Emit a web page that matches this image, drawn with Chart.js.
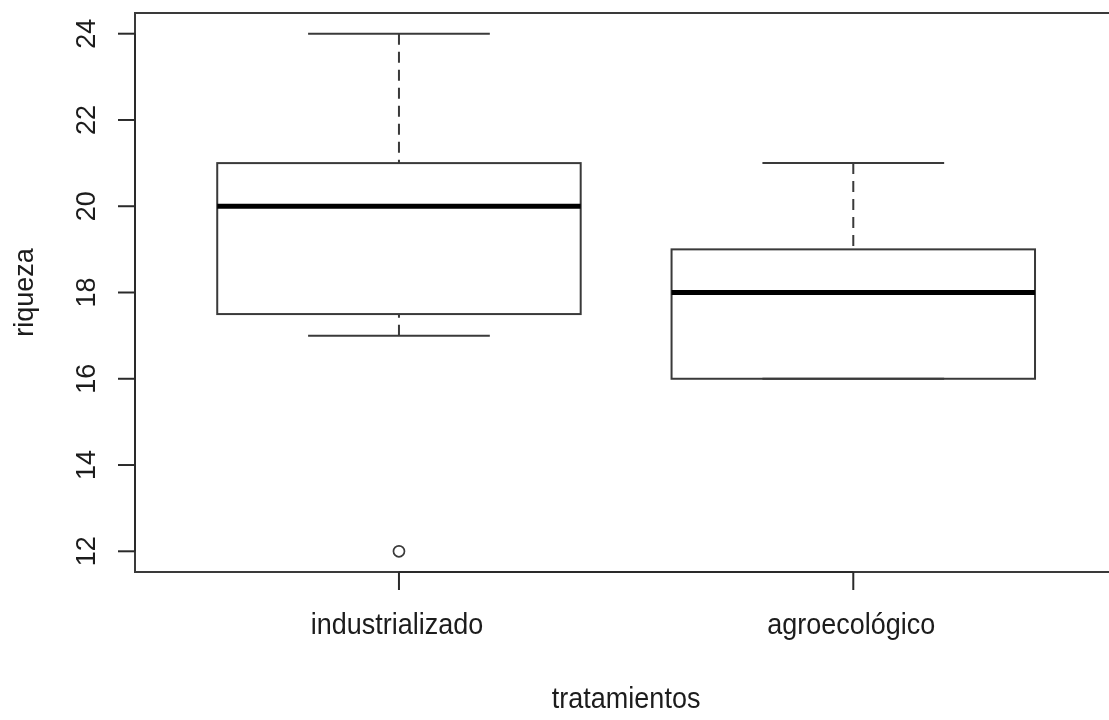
<!DOCTYPE html>
<html>
<head>
<meta charset="utf-8">
<script src="https://cdn.jsdelivr.net/npm/chart.js@4.4.1/dist/chart.umd.min.js"></script>
<style>
html,body{margin:0;padding:0;background:#fff;}
#wrap{width:1109px;height:720px;}
</style>
</head>
<body>
<div id="wrap"><canvas id="c" width="1109" height="720"></canvas></div>
<script>
// ---- data ----
const categories = ['industrializado', 'agroecológico'];
const whiskerLow = [17, 16];
const q1 = [17.5, 16];
const median = [20, 18];
const q3 = [21, 19];
const whiskerHigh = [24, 21];
const outliers = [[12], []];
const yTicks = [12, 14, 16, 18, 20, 22, 24];
const xTitle = 'tratamientos';
const yTitle = 'riqueza';

// ---- style ----
const BOX_W = 0.8, STAPLE_W = 0.4;
const LINE = '#3a3a3a', TEXT = '#1c1c1c';
const FONT = '27px "Liberation Sans", Arial, sans-serif';

const outlierPoints = [];
outliers.forEach((arr, i) => arr.forEach(v => outlierPoints.push({x: i + 1, y: v})));

function seg(ctx, x1, y1, x2, y2) {
  ctx.beginPath(); ctx.moveTo(x1, y1); ctx.lineTo(x2, y2); ctx.stroke();
}
function hText(ctx, s, px, py) {
  ctx.save();
  ctx.translate(px, py);
  ctx.scale(1, 1.08);
  ctx.fillText(s, 0, 0);
  ctx.restore();
}

const rbox = {
  id: 'rbox',
  beforeDatasetsDraw(chart) {
    const {ctx, scales: {x, y}} = chart;
    ctx.save();
    ctx.lineCap = 'butt';
    categories.forEach((c, i) => {
      const p = i + 1;
      const cx = x.getPixelForValue(p);
      const l = x.getPixelForValue(p - BOX_W / 2), r = x.getPixelForValue(p + BOX_W / 2);
      const sl = x.getPixelForValue(p - STAPLE_W / 2), sr = x.getPixelForValue(p + STAPLE_W / 2);
      const yq1 = y.getPixelForValue(q1[i]), yq3 = y.getPixelForValue(q3[i]);
      const ywl = y.getPixelForValue(whiskerLow[i]), ywh = y.getPixelForValue(whiskerHigh[i]);
      const ym = y.getPixelForValue(median[i]);
      ctx.strokeStyle = LINE; ctx.lineWidth = 2;
      ctx.setLineDash([11, 7]);
      if (whiskerHigh[i] > q3[i]) seg(ctx, cx, ywh, cx, yq3);
      if (whiskerLow[i] < q1[i]) seg(ctx, cx, ywl, cx, yq1);
      ctx.setLineDash([]);
      seg(ctx, sl, ywh, sr, ywh);
      seg(ctx, sl, ywl, sr, ywl);
      ctx.strokeRect(l, yq3, r - l, yq1 - yq3);
      ctx.strokeStyle = '#000'; ctx.lineWidth = 5;
      seg(ctx, l, ym, r, ym);
    });
    ctx.restore();
  },
  afterDraw(chart) {
    const {ctx, chartArea: a, scales: {x, y}} = chart;
    ctx.save();
    ctx.strokeStyle = LINE; ctx.lineWidth = 2;
    // frame
    ctx.beginPath();
    ctx.moveTo(1120, a.top); ctx.lineTo(a.left, a.top);
    ctx.lineTo(a.left, a.bottom); ctx.lineTo(1120, a.bottom);
    ctx.stroke();
    // y axis
    ctx.strokeStyle = '#2a2a2a';
    seg(ctx, a.left, y.getPixelForValue(yTicks[0]), a.left, y.getPixelForValue(yTicks[yTicks.length - 1]));
    yTicks.forEach(t => { const py = y.getPixelForValue(t); seg(ctx, a.left - 17, py, a.left, py); });
    // x axis
    seg(ctx, x.getPixelForValue(1), a.bottom, x.getPixelForValue(categories.length), a.bottom);
    categories.forEach((c, i) => { const px = x.getPixelForValue(i + 1); seg(ctx, px, a.bottom, px, a.bottom + 18); });
    // labels
    ctx.fillStyle = TEXT; ctx.font = FONT;
    ctx.textAlign = 'center'; ctx.textBaseline = 'alphabetic';
    categories.forEach((c, i) => hText(ctx, c, x.getPixelForValue(i + 1) - 2, 634));
    hText(ctx, xTitle, x.getPixelForValue(1.5), 708);
    yTicks.forEach(t => {
      ctx.save();
      ctx.translate(95, y.getPixelForValue(t));
      ctx.rotate(-Math.PI / 2);
      ctx.fillText(String(t), 0, 0);
      ctx.restore();
    });
    ctx.save();
    ctx.translate(33, (a.top + a.bottom) / 2);
    ctx.rotate(-Math.PI / 2);
    ctx.fillText(yTitle, 0, 0);
    ctx.restore();
    ctx.restore();
  }
};

new Chart(document.getElementById('c'), {
  type: 'scatter',
  data: {
    datasets: [{
      data: outlierPoints,
      pointRadius: 5.5,
      pointHoverRadius: 5.5,
      pointBorderWidth: 1.7,
      pointBorderColor: LINE,
      pointBackgroundColor: '#fff',
      showLine: false
    }]
  },
  options: {
    responsive: false,
    animation: false,
    events: [],
    layout: {padding: {left: 135, top: 13, bottom: 148, right: 0}},
    plugins: {legend: {display: false}, tooltip: {enabled: false}},
    scales: {
      x: {type: 'linear', display: false, min: 0.419, max: 2.547},
      y: {type: 'linear', display: false, min: 11.52, max: 24.48}
    }
  },
  plugins: [rbox]
});
</script>
</body>
</html>
